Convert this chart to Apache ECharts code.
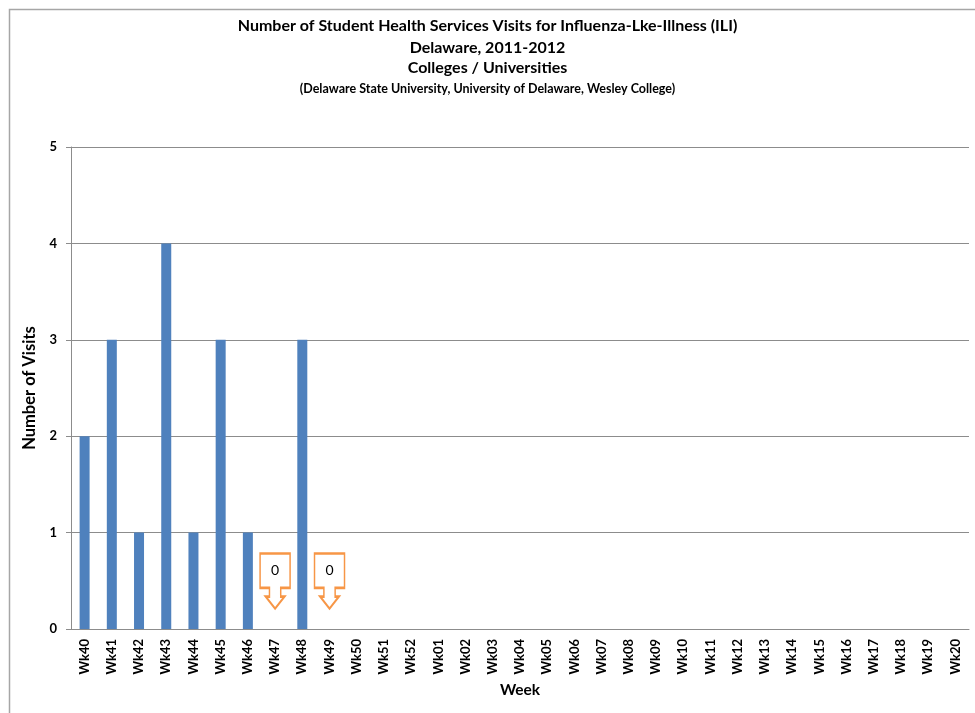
<!DOCTYPE html>
<html>
<head>
<meta charset="utf-8">
<script src="https://cdn.jsdelivr.net/npm/echarts@6/dist/echarts.min.js"></script>
<style>
html,body{margin:0;padding:0;background:#fff;}
#chart{width:975px;height:713px;}
</style>
</head>
<body>
<div id="chart"></div>
<script>
const weeks = ["Wk40","Wk41","Wk42","Wk43","Wk44","Wk45","Wk46","Wk47","Wk48","Wk49","Wk50","Wk51","Wk52","Wk01","Wk02","Wk03","Wk04","Wk05","Wk06","Wk07","Wk08","Wk09","Wk10","Wk11","Wk12","Wk13","Wk14","Wk15","Wk16","Wk17","Wk18","Wk19","Wk20"];
const visits = [2,3,1,4,1,3,1,0,3,null,null,null,null,null,null,null,null,null,null,null,null,null,null,null,null,null,null,null,null,null,null,null,null];
const calloutWeeks = ["Wk47","Wk49"];
const calloutValues = [0,0];
const titleLines = [
  "Number of Student Health Services Visits for Influenza-Lke-Illness (ILI)",
  "Delaware, 2011-2012",
  "Colleges / Universities",
  "(Delaware State University, University of Delaware, Wesley College)"
];

const FONT = "Lato, 'Open Sans', sans-serif";
const calloutPath = "path://M0,0L32,0L32,35L22,35L22,44L26,44L16,56L6,44L10,44L10,35L0,35Z";

const chart = echarts.init(document.getElementById('chart'), null, {renderer:'canvas'});
chart.setOption({
  backgroundColor:'#ffffff',
  animation:false,
  graphic:[{
    type:'rect', left:7, top:7,
    shape:{width:1000, height:800},
    style:{fill:'none', stroke:'#a6a6a6', lineWidth:1.5},
    silent:true
  }],
  title:[
    {text:titleLines[0], left:'center', top:18, padding:0, textStyle:{fontFamily:FONT, fontSize:16, fontWeight:'bold', color:'#000'}},
    {text:titleLines[1], left:'center', top:40, padding:0, textStyle:{fontFamily:FONT, fontSize:16, fontWeight:'bold', color:'#000'}},
    {text:titleLines[2], left:'center', top:60, padding:0, textStyle:{fontFamily:FONT, fontSize:16, fontWeight:'bold', color:'#000'}},
    {text:titleLines[3], left:'center', top:82, padding:0, textStyle:{fontFamily:FONT, fontSize:12.5, fontWeight:'bold', color:'#000'}}
  ],
  grid:{left:71, right:6, top:147, bottom:84, containLabel:false},
  xAxis:{
    type:'category',
    data:weeks,
    name:'Week',
    nameLocation:'middle',
    nameGap:49,
    nameTextStyle:{fontFamily:FONT, fontSize:15.5, fontWeight:'bold', color:'#000'},
    axisLine:{lineStyle:{color:'#8c8c8c', width:1}},
    axisTick:{show:false},
    axisLabel:{rotate:90, interval:0, margin:10, fontFamily:FONT, fontSize:13, fontWeight:'bold', color:'#000'}
  },
  yAxis:{
    type:'value',
    min:0, max:5, interval:1,
    name:'Number of Visits',
    nameLocation:'middle',
    nameGap:23,
    nameRotate:90,
    nameTextStyle:{fontFamily:FONT, fontSize:16.5, fontWeight:'bold', color:'#000'},
    axisLine:{show:true, lineStyle:{color:'#8c8c8c', width:1}},
    axisTick:{show:true, length:5, lineStyle:{color:'#8c8c8c'}},
    axisLabel:{margin:14, fontFamily:FONT, fontSize:13, fontWeight:'bold', color:'#000'},
    splitLine:{show:true, lineStyle:{color:'#8c8c8c', width:1}}
  },
  series:[{
    type:'bar',
    data:visits,
    barWidth:10,
    itemStyle:{color:'#4F81BD'},
    markPoint:{
      silent:true,
      symbol:calloutPath,
      symbolSize:[30,55],
      symbolKeepAspect:false,
      symbolOffset:[0,-48],
      itemStyle:{color:'#ffffff', borderColor:'#F79646', borderWidth:2},
      label:{show:true, position:'inside', offset:[0,-11], fontFamily:FONT, fontSize:14, color:'#000',
             formatter:p=>String(p.value)},
      data:calloutWeeks.map((w,i)=>({coord:[w, calloutValues[i]], value:calloutValues[i]}))
    }
  }]
});
</script>
</body>
</html>
